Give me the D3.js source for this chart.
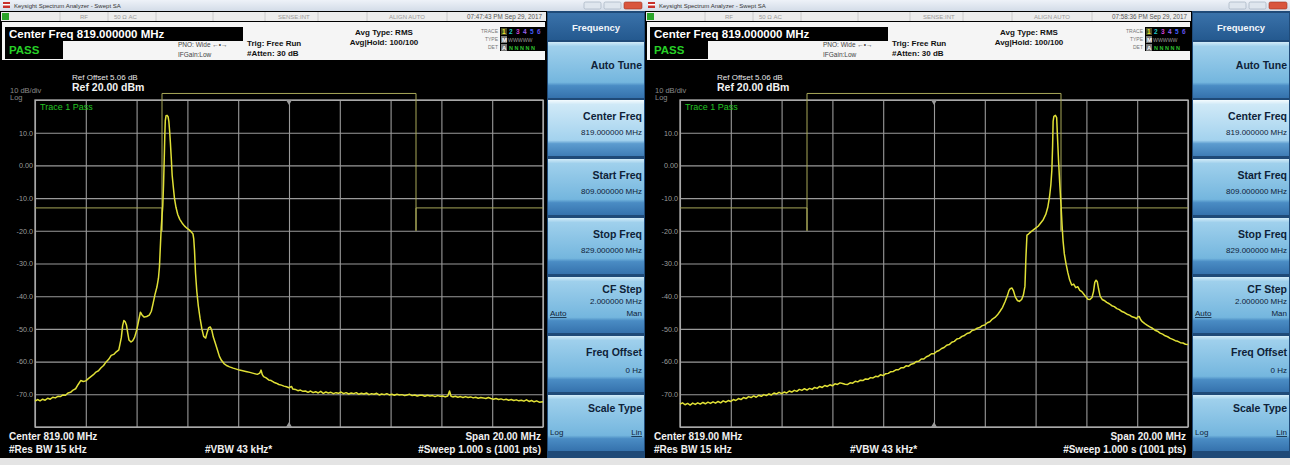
<!DOCTYPE html>
<html><head><meta charset="utf-8">
<script src="https://cdn.jsdelivr.net/npm/d3@7"></script>
<style>
body{margin:0;background:#fff;overflow:hidden}
svg{display:block}
text{font-family:"Liberation Sans",Arial,sans-serif}
</style></head>
<body><svg id="c" width="1292" height="465"></svg>
<script>
// ---------- DATA ----------
const freqDomain = [809, 829];           // MHz (start / stop)
const levelDomain = [-80, 20];           // dBm (bottom / ref level)
const xGridFreqs = [809, 811, 813, 815, 817, 819, 821, 823, 825, 827, 829];
const yTicks = [20, 10, 0, -10, -20, -30, -40, -50, -60, -70, -80];
const yTickLabels = ["", "10.0", "0.00", "-10.0", "-20.0", "-30.0", "-40.0", "-50.0", "-60.0", "-70.0", ""];
const limitFreq = [809, 814, 814, 814, 824, 824, 824, 829];
const limitLevel = [-13, -13, -20, 22, 22, -20, -13, -13];
const timestamps = ["07:47:43 PM Sep 29, 2017", "07:58:36 PM Sep 29, 2017"];
const softkeyTitles = ["Auto Tune", "Center Freq", "Start Freq", "Stop Freq", "CF Step", "Freq Offset", "Scale Type"];
const softkeyValues = ["", "819.000000 MHz", "809.000000 MHz", "829.000000 MHz", "2.000000 MHz", "0 Hz", ""];

// trace 1, first capture: [MHz, dBm]
const traceA = [
[809.0,-72.1],[809.1,-71.6],[809.2,-72.0],[809.3,-71.5],[809.4,-71.8],[809.5,-71.2],[809.6,-71.5],[809.7,-70.9],[809.8,-71.1],[809.9,-70.6],
[810.0,-70.7],[810.1,-70.2],[810.2,-70.3],[810.3,-69.6],[810.4,-69.4],[810.5,-68.7],[810.6,-68.3],[810.7,-67.0],[810.8,-65.8],[810.9,-66.1],
[811.0,-65.9],[811.1,-65.2],[811.2,-64.6],[811.3,-64.0],[811.4,-63.2],[811.5,-62.8],[811.6,-61.9],[811.7,-61.2],[811.8,-60.1],[811.9,-59.3],
[812.0,-58.1],[812.1,-57.8],[812.2,-57.0],[812.3,-56.4],[812.35,-54.5],[812.4,-52.6],[812.45,-49.0],[812.5,-47.4],[812.55,-47.8],[812.6,-48.8],
[812.65,-51.2],[812.7,-53.4],[812.78,-54.0],[812.85,-53.6],[812.92,-52.6],[813.0,-50.5],[813.08,-47.5],[813.15,-44.9],[813.22,-45.8],[813.3,-46.4],
[813.4,-46.2],[813.5,-45.8],[813.58,-44.6],[813.65,-42.2],[813.72,-39.6],[813.8,-37.2],[813.86,-34.5],[813.9,-31.0],[813.94,-24.0],[813.97,-19.0],
[814.0,-15.5],[814.03,-12.5],[814.06,-6.0],[814.09,2.5],[814.11,9.0],[814.13,13.7],[814.16,15.2],[814.2,15.3],[814.24,14.9],[814.27,13.5],
[814.3,10.5],[814.33,7.0],[814.37,1.5],[814.4,-3.0],[814.45,-7.0],[814.49,-10.0],[814.55,-12.8],[814.62,-15.0],[814.7,-16.5],[814.79,-17.6],
[814.88,-18.5],[814.98,-19.2],[815.08,-19.8],[815.16,-20.4],[815.22,-21.0],[815.25,-22.5],[815.28,-26.0],[815.32,-33.0],[815.37,-38.5],[815.43,-43.0],
[815.5,-46.8],[815.57,-50.0],[815.64,-52.3],[815.72,-52.8],[815.78,-51.0],[815.84,-49.6],[815.9,-49.4],[815.96,-50.4],[816.02,-52.5],[816.1,-54.4],
[816.18,-56.4],[816.26,-58.4],[816.34,-59.6],[816.44,-60.6],[816.54,-61.2],[816.66,-61.6],[816.8,-62.0],[816.93,-62.3],[817.05,-62.6],[817.18,-62.8],
[817.3,-63.0],[817.46,-63.3],[817.6,-63.6],[817.75,-63.9],[817.85,-63.5],[817.9,-62.6],[817.95,-64.0],[818.0,-64.6],[818.1,-65.0],[818.2,-65.6],
[818.3,-65.8],[818.4,-66.3],[818.5,-66.6],[818.6,-67.0],[818.7,-67.2],[818.8,-67.5],[818.9,-67.7],[819.0,-68.0],[819.1,-67.6],[819.15,-68.4],
[819.25,-68.5],[819.35,-68.9],[819.45,-68.7],[819.55,-69.1],[819.65,-69.0],[819.75,-69.4],[819.85,-69.0],[819.95,-69.5],[820.05,-69.2],[820.15,-69.6],
[820.25,-69.1],[820.35,-69.7],[820.45,-69.3],[820.55,-69.6],[820.65,-69.4],[820.75,-69.8],[820.85,-69.5],[820.95,-69.7],[821.05,-69.3],[821.15,-69.8],
[821.25,-69.5],[821.35,-69.9],[821.45,-69.6],[821.55,-69.8],[821.65,-69.5],[821.75,-70.0],[821.85,-69.7],[821.95,-69.9],[822.05,-69.6],[822.15,-70.1],
[822.25,-69.8],[822.35,-70.0],[822.45,-69.7],[822.55,-70.2],[822.65,-69.9],[822.75,-70.1],[822.85,-69.8],[822.95,-70.2],[823.05,-70.0],[823.15,-70.3],
[823.25,-70.0],[823.35,-70.2],[823.45,-70.1],[823.55,-70.4],[823.65,-70.2],[823.75,-70.0],[823.85,-70.4],[823.95,-70.2],[824.05,-70.5],[824.15,-70.3],
[824.25,-70.3],[824.35,-70.6],[824.45,-70.3],[824.55,-70.5],[824.65,-70.4],[824.75,-70.7],[824.85,-70.4],[824.95,-70.6],[825.05,-70.5],[825.15,-70.8],
[825.25,-70.5],[825.32,-69.0],[825.38,-70.6],[825.45,-70.8],[825.55,-70.6],[825.65,-70.9],[825.75,-70.7],[825.85,-71.0],[825.95,-70.7],[826.05,-71.0],
[826.15,-70.8],[826.25,-71.1],[826.35,-70.9],[826.45,-71.2],[826.55,-71.0],[826.65,-71.1],[826.75,-71.3],[826.85,-71.0],[826.95,-71.3],[827.05,-71.5],
[827.15,-71.3],[827.25,-71.6],[827.35,-71.4],[827.45,-71.7],[827.55,-71.5],[827.65,-71.8],[827.75,-71.6],[827.85,-71.9],[827.95,-71.7],[828.05,-72.0],
[828.15,-71.8],[828.25,-72.1],[828.35,-71.7],[828.45,-72.2],[828.55,-71.9],[828.65,-72.3],[828.75,-72.0],[828.85,-72.4],[829.0,-72.3]
];

// trace 1, second capture: [MHz, dBm]
const traceB = [
[809.0,-73.0],[809.1,-72.6],[809.2,-73.2],[809.3,-72.8],[809.4,-73.3],[809.5,-72.7],[809.6,-73.1],[809.7,-72.6],[809.8,-73.0],[809.9,-72.5],
[810.0,-72.9],[810.1,-72.4],[810.2,-72.8],[810.3,-72.3],[810.4,-72.7],[810.5,-72.2],[810.6,-72.6],[810.7,-72.0],[810.8,-72.4],[810.9,-71.9],
[811.0,-72.2],[811.1,-71.6],[811.2,-71.9],[811.3,-71.3],[811.4,-71.6],[811.5,-71.0],[811.6,-71.3],[811.7,-70.7],[811.8,-71.0],[811.9,-70.5],
[812.0,-70.9],[812.1,-70.3],[812.2,-70.6],[812.3,-70.1],[812.4,-70.4],[812.5,-69.9],[812.6,-70.2],[812.7,-69.6],[812.8,-69.9],[812.9,-69.4],
[813.0,-69.8],[813.1,-69.3],[813.2,-69.6],[813.3,-69.0],[813.4,-69.3],[813.5,-68.8],[813.6,-69.1],[813.7,-68.5],[813.8,-68.8],[813.9,-68.3],
[814.0,-68.7],[814.1,-68.2],[814.2,-68.5],[814.3,-67.9],[814.4,-68.2],[814.5,-67.6],[814.6,-67.9],[814.7,-67.3],[814.8,-67.6],[814.9,-67.1],
[815.0,-67.4],[815.1,-66.8],[815.2,-67.0],[815.3,-66.5],[815.4,-66.7],[815.5,-66.9],[815.6,-67.0],[815.7,-66.5],[815.8,-66.6],[815.9,-66.0],
[816.0,-66.2],[816.1,-65.7],[816.2,-65.8],[816.3,-65.3],[816.4,-65.4],[816.5,-64.9],[816.6,-65.0],[816.7,-64.5],[816.8,-64.6],[816.9,-64.0],
[817.0,-64.3],[817.1,-63.7],[817.2,-63.6],[817.3,-63.1],[817.4,-63.0],[817.5,-62.5],[817.6,-62.5],[817.7,-61.9],[817.8,-61.9],[817.9,-61.3],
[818.0,-61.4],[818.1,-60.8],[818.2,-60.6],[818.3,-60.0],[818.4,-59.9],[818.5,-59.2],[818.6,-59.2],[818.7,-58.5],[818.8,-58.2],[818.9,-57.6],
[819.0,-57.6],[819.1,-56.9],[819.2,-56.6],[819.3,-56.0],[819.4,-55.7],[819.5,-55.0],[819.6,-54.8],[819.7,-54.1],[819.8,-53.8],[819.9,-53.1],
[820.0,-52.9],[820.1,-52.3],[820.2,-52.0],[820.3,-51.4],[820.4,-51.2],[820.5,-50.5],[820.6,-50.3],[820.7,-49.8],[820.8,-49.6],[820.9,-49.0],
[821.0,-48.8],[821.1,-48.1],[821.2,-47.8],[821.3,-47.0],[821.4,-46.5],[821.5,-45.7],[821.6,-44.6],[821.7,-43.4],[821.8,-41.6],[821.9,-39.6],
[821.95,-38.3],[822.0,-37.7],[822.07,-37.5],[822.13,-38.4],[822.2,-40.2],[822.28,-41.3],[822.36,-41.6],[822.45,-41.0],[822.52,-39.6],[822.58,-37.0],
[822.62,-28.0],[822.66,-21.3],[822.72,-21.0],[822.8,-20.4],[822.9,-19.8],[823.0,-19.2],[823.1,-18.6],[823.2,-17.6],[823.3,-16.6],[823.4,-15.0],
[823.48,-12.8],[823.55,-9.5],[823.6,-6.0],[823.64,-1.5],[823.67,6.0],[823.69,13.5],[823.72,15.0],[823.78,15.3],[823.83,14.6],[823.86,9.0],
[823.9,2.0],[823.95,-5.5],[824.0,-12.0],[824.04,-18.0],[824.08,-23.0],[824.13,-27.0],[824.2,-30.2],[824.27,-32.8],[824.34,-35.0],[824.42,-36.6],
[824.5,-36.3],[824.58,-37.4],[824.66,-37.1],[824.74,-38.2],[824.82,-38.6],[824.9,-39.4],[824.98,-40.2],[825.06,-40.9],[825.14,-41.0],[825.22,-40.4],
[825.28,-38.6],[825.33,-35.8],[825.38,-35.1],[825.43,-35.6],[825.48,-37.8],[825.54,-40.0],[825.62,-41.0],[825.7,-41.3],[825.8,-41.9],[825.9,-42.3],
[826.0,-42.9],[826.1,-43.2],[826.2,-43.8],[826.3,-44.1],[826.4,-44.7],[826.5,-45.0],[826.6,-45.5],[826.7,-45.8],[826.8,-46.3],[826.9,-46.5],
[826.97,-46.9],[827.02,-46.3],[827.08,-46.2],[827.14,-47.2],[827.2,-47.8],[827.3,-48.4],[827.4,-48.9],[827.5,-49.4],[827.6,-49.8],[827.7,-50.4],
[827.8,-50.7],[827.9,-51.3],[828.0,-51.6],[828.1,-52.1],[828.2,-52.4],[828.3,-52.9],[828.4,-53.2],[828.5,-53.6],[828.6,-53.8],[828.7,-54.2],
[828.8,-54.3],[828.9,-54.7],[829.0,-54.8]
];
const traces = [traceA, traceB];
const panelOffsets = [0, 645];

// ---------- DRAW ----------
const svg = d3.select("#c");
const defs = svg.append("defs");
function grad(id, stops){
  const g = defs.append("linearGradient").attr("id", id).attr("x1",0).attr("y1",0).attr("x2",0).attr("y2",1);
  stops.forEach(s => g.append("stop").attr("offset", s[0]).attr("stop-color", s[1]));
}
grad("titleG", [[0,"#eef2f8"],[1,"#d3dce8"]]);
grad("keyG", [[0,"#d2ebf8"],[0.08,"#9fd0ec"],[0.72,"#74b6de"],[0.78,"#4a8cc4"],[1,"#3572ad"]]);
grad("keySelG", [[0,"#f4fbfe"],[0.08,"#cfe9f7"],[0.72,"#a3d2ee"],[0.78,"#5c9ccf"],[1,"#3f7db6"]]);
grad("hdrG", [[0,"#3a72aa"],[1,"#24598f"]]);

const x = d3.scaleLinear().domain(freqDomain).range([35, 543]);
const y = d3.scaleLinear().domain(levelDomain).range([427, 100]);

function txt(g, xx, yy, s, o = {}){
  const t = g.append("text").attr("x", xx).attr("y", yy).text(s)
    .attr("font-size", o.size || 8).attr("fill", o.fill || "#000")
    .attr("font-weight", o.bold ? "bold" : "normal")
    .attr("text-anchor", o.anchor || "start");
  if (o.ul) t.attr("text-decoration", "underline");
  return t;
}

panelOffsets.forEach((off, pi) => {
  const g = svg.append("g").attr("transform", `translate(${off},0)`);
  // title bar
  g.append("rect").attr("x",0).attr("y",0).attr("width",645).attr("height",11).attr("fill","url(#titleG)");
  g.append("rect").attr("x",3).attr("y",2).attr("width",7).attr("height",6).attr("fill","#c8302a");
  g.append("rect").attr("x",3).attr("y",4).attr("width",7).attr("height",1.5).attr("fill","#fff");
  txt(g, 14, 8, "Keysight Spectrum Analyzer - Swept SA", {size:6, fill:"#333"});
  g.append("rect").attr("x",584).attr("y",2).attr("width",17).attr("height",7).attr("rx",1.5).attr("fill","#dfe6ee").attr("stroke","#9aa8b8").attr("stroke-width",0.6);
  g.append("rect").attr("x",604).attr("y",2).attr("width",17).attr("height",7).attr("rx",1.5).attr("fill","#dfe6ee").attr("stroke","#9aa8b8").attr("stroke-width",0.6);
  g.append("rect").attr("x",624).attr("y",2).attr("width",18).attr("height",7).attr("rx",1.5).attr("fill","#d9553d").attr("stroke","#a03020").attr("stroke-width",0.6);

  // instrument frame
  g.append("rect").attr("x",0).attr("y",11).attr("width",547).attr("height",447).attr("fill","#000");
  // status row
  g.append("rect").attr("x",1).attr("y",12).attr("width",545).attr("height",9).attr("fill","#ececec");
  g.append("rect").attr("x",2).attr("y",13).attr("width",7).attr("height",7).attr("fill","#2aa52a");
  [60,108,156,213,265,318,367,447].forEach(d => g.append("line").attr("x1",d).attr("x2",d).attr("y1",12).attr("y2",21).attr("stroke","#c4c4c4").attr("stroke-width",0.8));
  txt(g, 80, 19, "RF", {size:6, fill:"#9a9a9a"});
  txt(g, 114, 19, "50 Ω   AC", {size:6, fill:"#9a9a9a"});
  txt(g, 278, 19, "SENSE:INT", {size:6, fill:"#9a9a9a"});
  txt(g, 389, 19, "ALIGN AUTO", {size:6, fill:"#9a9a9a"});
  txt(g, 542, 19, timestamps[pi], {size:6.3, fill:"#555", anchor:"end"});

  // header
  g.append("rect").attr("x",2).attr("y",22).attr("width",543).attr("height",38).attr("fill","#f5f5f5");
  g.append("rect").attr("x",5).attr("y",27).attr("width",238).attr("height",14).attr("fill","#000");
  txt(g, 9, 38, "Center Freq 819.000000 MHz", {size:11.5, bold:true, fill:"#fff"});
  g.append("rect").attr("x",5).attr("y",41).attr("width",58).attr("height",18).attr("fill","#000");
  txt(g, 9, 54, "PASS", {size:11.5, bold:true, fill:"#27d027"});
  txt(g, 178, 47, "PNO: Wide  ←•→", {size:6.5, fill:"#444"});
  txt(g, 178, 57, "IFGain:Low", {size:6.5, fill:"#444"});
  txt(g, 247, 46, "Trig: Free Run", {size:8, bold:true, fill:"#111"});
  txt(g, 247, 56, "#Atten: 30 dB", {size:8, bold:true, fill:"#111"});
  txt(g, 384, 35, "Avg Type: RMS", {size:8, bold:true, fill:"#111", anchor:"middle"});
  txt(g, 384, 45, "Avg|Hold: 100/100", {size:8, bold:true, fill:"#111", anchor:"middle"});
  txt(g, 498, 33, "TRACE", {size:5, fill:"#777", anchor:"end"});
  txt(g, 498, 41, "TYPE", {size:5, fill:"#777", anchor:"end"});
  txt(g, 498, 49, "DET", {size:5, fill:"#777", anchor:"end"});
  g.append("rect").attr("x",500).attr("y",27).attr("width",45).attr("height",24).attr("fill","#000");
  g.append("rect").attr("x",501).attr("y",28).attr("width",6).attr("height",7).attr("fill","#4a4a20");
  const tcol = ["#e8e830","#20c8c8","#d040d0","#9a60f0","#4060ff","#6050e8"];
  tcol.forEach((c,i)=> txt(g, 502 + i*7, 34, String(i+1), {size:6.5, bold:true, fill:c}));
  g.append("rect").attr("x",501).attr("y",36).attr("width",6).attr("height",7).attr("fill","#777");
  txt(g, 502, 42, "M", {size:6, bold:true, fill:"#fff"});
  txt(g, 508, 42, "WWWWW", {size:5.2, fill:"#9a9a9a"});
  g.append("rect").attr("x",501).attr("y",44).attr("width",6).attr("height",7).attr("fill","#777");
  txt(g, 502, 50, "A", {size:6, bold:true, fill:"#fff"});
  txt(g, 509, 50, "N N N N N", {size:5.5, bold:true, fill:"#30c030"});

  // ref labels
  txt(g, 72, 80, "Ref Offset 5.06 dB", {size:8, fill:"#e6e6e6"});
  txt(g, 72, 91, "Ref 20.00 dBm", {size:10.5, bold:true, fill:"#f2f2f2"});
  txt(g, 10, 93, "10 dB/div", {size:7.5, fill:"#8a8a8a"});
  txt(g, 10, 100, "Log", {size:7.5, fill:"#8a8a8a"});

  // grid via axes
  const plot = g.append("g");
  const gx = plot.append("g").attr("transform","translate(0,427)")
    .call(d3.axisBottom(x).tickValues(xGridFreqs).tickSize(-327).tickFormat(""));
  const gy = plot.append("g").attr("transform","translate(35,0)")
    .call(d3.axisLeft(y).tickValues(yTicks).tickSize(-508).tickFormat(""));
  [gx, gy].forEach(a => {
    a.select(".domain").remove();
    a.selectAll(".tick line").attr("stroke","#9a9a9a").attr("stroke-width",1.1);
  });
  plot.append("rect").attr("x",35).attr("y",100).attr("width",508).attr("height",327)
    .attr("fill","none").attr("stroke","#b0b0b0").attr("stroke-width",1.3);
  const gl = plot.append("g").attr("transform","translate(33,0)")
    .call(d3.axisLeft(y).tickValues(yTicks).tickSize(0).tickPadding(0)
      .tickFormat((d,i)=>yTickLabels[i]));
  gl.select(".domain").remove();
  gl.selectAll("text").attr("fill","#9c9c9c").attr("font-size",7.2)
    .attr("font-family",'"Liberation Sans",Arial,sans-serif');

  // center markers
  const cx = x((freqDomain[0]+freqDomain[1])/2);
  plot.append("path").attr("d",`M${cx-3},100 L${cx+3},100 L${cx},105 Z`).attr("fill","#9a9a9a");
  plot.append("path").attr("d",`M${cx-3},427 L${cx+3},427 L${cx},422 Z`).attr("fill","#9a9a9a");

  txt(g, 40, 110, "Trace 1 Pass", {size:9, fill:"#22c422"});

  // limit line
  const limitPts = limitFreq.map((f,i)=>[f, limitLevel[i]]);
  plot.append("path").datum(limitPts)
    .attr("d", d3.line().x(d=>x(d[0])).y(d=>y(d[1])))
    .attr("fill","none").attr("stroke","#a8a858").attr("stroke-width",1);

  // trace
  plot.append("path").datum(traces[pi])
    .attr("d", d3.line().x(d=>x(d[0])).y(d=>y(d[1])))
    .attr("fill","none").attr("stroke","#e0e036").attr("stroke-width",1.5).attr("stroke-linejoin","round");

  // bottom annotations
  txt(g, 9, 440, "Center 819.00 MHz", {size:10, bold:true, fill:"#f0f0f0"});
  txt(g, 9, 453, "#Res BW 15 kHz", {size:10, bold:true, fill:"#f0f0f0"});
  txt(g, 205, 453, "#VBW 43 kHz*", {size:10, bold:true, fill:"#f0f0f0"});
  txt(g, 541, 440, "Span 20.00 MHz", {size:10, bold:true, fill:"#f0f0f0", anchor:"end"});
  txt(g, 541, 453, "#Sweep  1.000 s (1001 pts)", {size:10, bold:true, fill:"#f0f0f0", anchor:"end"});

  // bottom status strip
  g.append("rect").attr("x",0).attr("y",458).attr("width",645).attr("height",7).attr("fill","#e4e4e4");

  // softkey panel
  const sk = g.append("g");
  sk.append("rect").attr("x",547).attr("y",11).attr("width",98).attr("height",447).attr("fill","#1f4a78");
  sk.append("rect").attr("x",548).attr("y",13).attr("width",96).attr("height",27).attr("fill","url(#hdrG)");
  txt(sk, 596, 31, "Frequency", {size:9.5, bold:true, fill:"#f2f6fa", anchor:"middle"});
  const keyY = [42, 100, 159, 218, 277, 336, 395];
  keyY.forEach((ky,i)=>{
    sk.append("rect").attr("x",548).attr("y",ky).attr("width",96).attr("height",56)
      .attr("fill", i===1 ? "url(#keySelG)" : "url(#keyG)");
  });
  txt(sk, 642, 69, softkeyTitles[0], {size:10.5, bold:true, fill:"#0e2238", anchor:"end"});
  [1,2,3].forEach(i=>{
    txt(sk, 642, keyY[i]+20, softkeyTitles[i], {size:10.5, bold:true, fill:"#0e2238", anchor:"end"});
    txt(sk, 642, keyY[i]+35, softkeyValues[i], {size:8, fill:"#0e2238", anchor:"end"});
  });
  txt(sk, 642, keyY[4]+16, softkeyTitles[4], {size:10.5, bold:true, fill:"#0e2238", anchor:"end"});
  txt(sk, 642, keyY[4]+27, softkeyValues[4], {size:8, fill:"#0e2238", anchor:"end"});
  txt(sk, 550, keyY[4]+39, "Auto", {size:8, fill:"#0e2238", ul:true});
  txt(sk, 642, keyY[4]+39, "Man", {size:8, fill:"#0e2238", anchor:"end"});
  txt(sk, 642, keyY[5]+20, softkeyTitles[5], {size:10.5, bold:true, fill:"#0e2238", anchor:"end"});
  txt(sk, 642, keyY[5]+37, softkeyValues[5], {size:8, fill:"#0e2238", anchor:"end"});
  txt(sk, 642, keyY[6]+17, softkeyTitles[6], {size:10.5, bold:true, fill:"#0e2238", anchor:"end"});
  txt(sk, 550, keyY[6]+40, "Log", {size:8, fill:"#0e2238"});
  txt(sk, 642, keyY[6]+40, "Lin", {size:8, fill:"#0e2238", anchor:"end", ul:true});
});
</script>
</body></html>
